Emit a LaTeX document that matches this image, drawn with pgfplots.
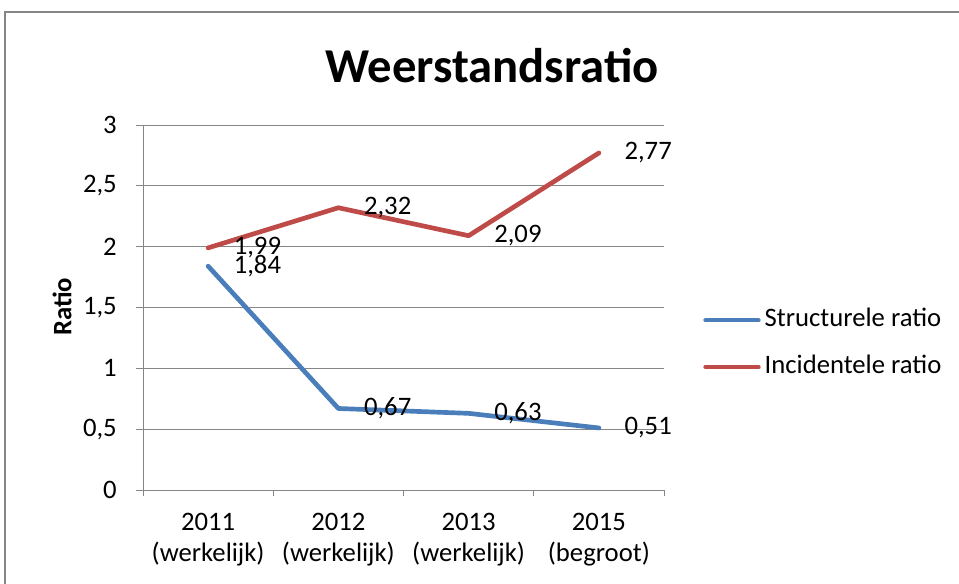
\documentclass[border=0pt]{standalone}
\usepackage{fontspec}
\setmainfont{Carlito}
\usepackage{pgfplots}
\pgfplotsset{compat=1.18}
\definecolor{sblue}{RGB}{74,126,187}
\definecolor{sred}{RGB}{190,75,72}
\definecolor{gridgray}{RGB}{134,134,134}
\newcommand{\lbl}{\fontsize{20}{23.25}\selectfont}
\begin{document}
\begin{tikzpicture}
\useasboundingbox (0,0) rectangle (719.25pt,-438pt);
\draw[gridgray, line width=1.5pt] (3.75pt,-600pt) -- (3.75pt,-9pt) -- (800pt,-9pt);
\node[font=\fontsize{36.5}{40}\selectfont\bfseries] at (369pt,-49.5pt) {Weerstandsratio};
\node[rotate=90, font=\lbl\bfseries] at (46.5pt,-230.25pt) {Ratio};
\begin{axis}[
 at={(107.25pt,-367.5pt)}, anchor=south west,
 scale only axis, width=390.75pt, height=273.75pt,
 clip=false,
 xmin=-0.5, xmax=3.5, ymin=0, ymax=3,
 axis x line*=bottom, axis y line*=left,
 axis line style={gridgray, line width=0.75pt, -},
 xtick={0,1,2,3},
 xticklabels={{2011\\(werkelijk)},{2012\\(werkelijk)},{2013\\(werkelijk)},{2015\\(begroot)}},
 minor xtick={-0.5,0.5,1.5,2.5,3.5},
 major x tick style={draw=none},
 minor x tick style={gridgray, line width=0.75pt},
 minor tick length=4.5pt,
 ytick={0,0.5,1,1.5,2,2.5,3},
 yticklabels={0,{0,5},1,{1,5},2,{2,5},3},
 major tick length=5pt,
 tick align=outside,
 ytick style={gridgray, line width=0.75pt},
 ymajorgrids, grid style={gridgray, line width=0.75pt},
 x tick label style={font=\lbl, align=center, inner sep=0pt, yshift=-12pt},
 y tick label style={font=\lbl, inner sep=0pt, xshift=-14.5pt},
 legend style={at={(1.075,0.401)}, anchor=west, draw=none, fill=none, inner sep=0pt,
   font=\lbl, row sep=17pt, column sep=3pt,
   nodes={inner sep=0pt, text height=14pt, text depth=4pt}},
 legend cell align=left,
 legend image code/.code={\draw[#1, line width=3pt] (0pt,0pt) -- (40pt,0pt);},
 nodes near coords align={horizontal},
 every node near coord/.append style={anchor=west, inner sep=0pt, xshift=17.5pt, font=\lbl, text=black},
]
\addplot[sblue, line width=3.5pt, line join=round, line cap=round,
  nodes near coords, point meta=explicit symbolic]
  coordinates {(0,1.84) [1,84] (1,0.67) [0,67] (2,0.63) [0,63] (3,0.51) [0,51]};
\addlegendentry{Structurele ratio}
\addplot[sred, line width=3.5pt, line join=round, line cap=round,
  nodes near coords, point meta=explicit symbolic]
  coordinates {(0,1.99) [1,99] (1,2.32) [2,32] (2,2.09) [2,09] (3,2.77) [2,77]};
\addlegendentry{Incidentele ratio}
\end{axis}
\end{tikzpicture}
\end{document}
